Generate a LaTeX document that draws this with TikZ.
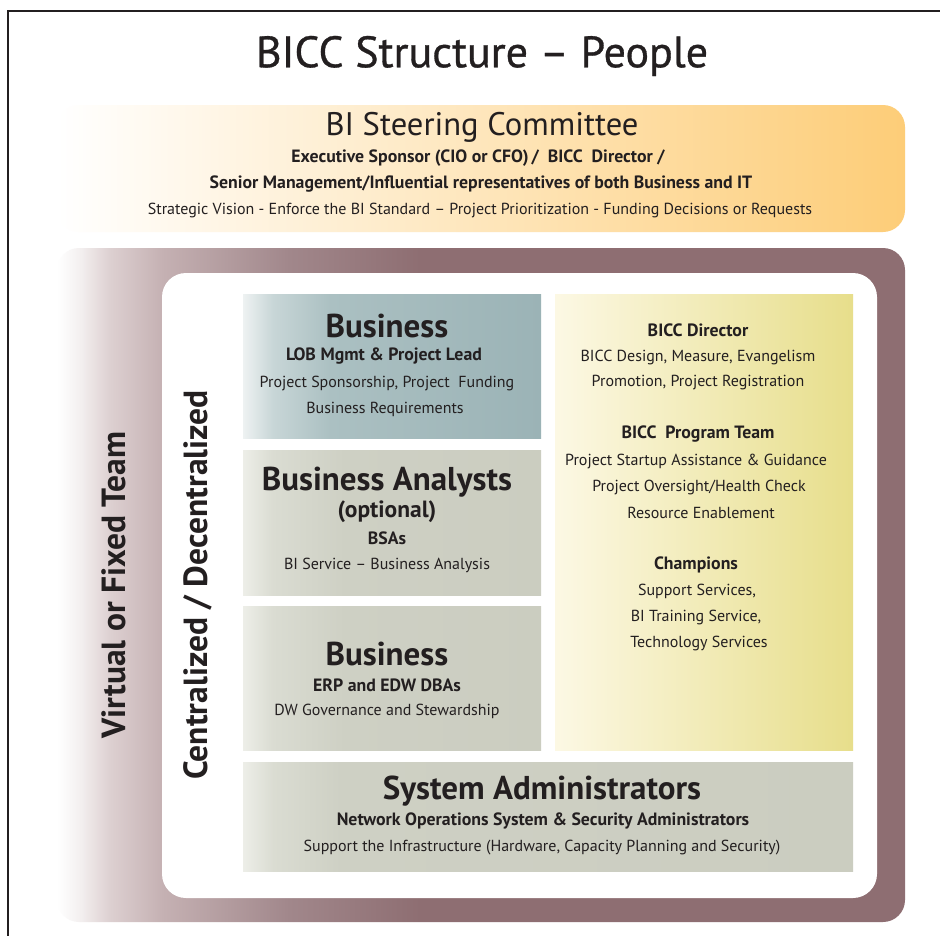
\documentclass[tikz,border=0pt]{standalone}
\usepackage{fontspec}
\setmainfont{PT Sans}
\newfontfamily\headlinefont{PT Sans}[FakeBold=0.7]

% palette
\definecolor{ink}{HTML}{231F20}
\definecolor{mauve}{HTML}{8E6E72}
\definecolor{mauveA}{HTML}{F3EFEF}
\definecolor{mauveB}{HTML}{DDD0D1}
\definecolor{mauveC}{HTML}{C5B1B3}
\definecolor{mauveD}{HTML}{A1878B}
\definecolor{steerorange}{HTML}{FDCD78}
\definecolor{bizA}{HTML}{EEF2F2}
\definecolor{bizB}{HTML}{C8D6D7}
\definecolor{bizC}{HTML}{ABC0C2}
\definecolor{bizD}{HTML}{9BB3B6}
\definecolor{sageA}{HTML}{EDEEE8}
\definecolor{sageB}{HTML}{DADCD2}
\definecolor{sageC}{HTML}{CED0C4}
\definecolor{sageD}{HTML}{CBCDC0}
\definecolor{creamL}{HTML}{FCF8E4}
\definecolor{creamR}{HTML}{E7DE8B}

% horizontal shadings (the path box spans 25bp..75bp)
\pgfdeclarehorizontalshading{teamshade}{100bp}{color(0bp)=(white); color(25bp)=(white);
  color(26.4bp)=(mauveA); color(28.1bp)=(mauveB); color(31.2bp)=(mauveC);
  color(38.7bp)=(mauveD); color(46.4bp)=(mauve); color(100bp)=(mauve)}
\pgfdeclarehorizontalshading{bizshade}{100bp}{color(0bp)=(bizA); color(25bp)=(bizA);
  color(30bp)=(bizB); color(39.6bp)=(bizC); color(75bp)=(bizD); color(100bp)=(bizD)}
\pgfdeclarehorizontalshading{sageshade}{100bp}{color(0bp)=(sageA); color(25bp)=(sageA);
  color(30bp)=(sageB); color(42bp)=(sageC); color(75bp)=(sageD); color(100bp)=(sageD)}
\pgfdeclarehorizontalshading{wideshade}{100bp}{color(0bp)=(sageA); color(25bp)=(sageA);
  color(27.5bp)=(sageB); color(33bp)=(sageC); color(75bp)=(sageD); color(100bp)=(sageD)}

\tikzset{
  panel/.style={anchor=north west, inner sep=0pt, outer sep=0pt},
  titletext/.style={text=ink, font=\headlinefont\fontsize{44}{48}\selectfont},
  steertitle/.style={text=ink, font=\fontsize{32.6}{36}\selectfont},
  boldline/.style={text=ink, font=\fontsize{17.8}{20}\selectfont\bfseries},
  plainline/.style={text=ink, font=\fontsize{16}{19}\selectfont},
  boxhead/.style={text=ink, font=\fontsize{33}{36}\selectfont\bfseries},
  optline/.style={text=ink, font=\fontsize{23.5}{26}\selectfont\bfseries},
  sidelabel/.style={text=ink, rotate=90, font=\fontsize{33.5}{36}\selectfont\bfseries},
}

\begin{document}
\begin{tikzpicture}[x=1pt,y=-1pt]
\useasboundingbox (0,0) rectangle (940,935);
\fill[white] (0,0) rectangle (940,935);

% page frame (open towards the right and bottom)
\draw[ink, line width=2.4pt] (8,940) -- (8,11) -- (945,11);

\node[titletext] (title) at (482,56) {BICC Structure – People};

% steering committee band
\node[panel, minimum width=848pt, minimum height=127pt, rounded corners=22pt,
      left color=white, right color=steerorange] (steer) at (57,105) {};
\node[steertitle] (steerhead) at (482,127) {BI Steering Committee};
\node[boldline] (steerA) at (478,158) {Executive Sponsor (CIO or CFO)\,/\ \ BICC\ \ Director /};
\node[boldline] (steerB) at (481,184) {Senior Management/Influential representatives of both Business and IT};
\node[plainline] (steerC) at (480,210) {Strategic Vision - Enforce the BI Standard – Project Prioritization - Funding Decisions or Requests};

% team frame and the white core inside it
\node[panel, minimum width=848pt, minimum height=674pt, rounded corners=22pt,
      shading=teamshade] (team) at (57,248) {};
\node[panel, minimum width=715pt, minimum height=625pt, rounded corners=24pt,
      fill=white] (core) at (162,273) {};

\node[sidelabel] (virtual) at (114,585) {Virtual or Fixed Team};
\node[sidelabel] (central) at (198,585) {Centralized / Decentralized};

% role panels
\node[panel, minimum width=298pt, minimum height=144pt, shading=bizshade] (lob) at (243,294) {};
\node[panel, minimum width=298pt, minimum height=145pt, shading=sageshade] (bsa) at (243,450) {};
\node[panel, minimum width=298pt, minimum height=144pt, shading=sageshade] (dba) at (243,606) {};
\node[panel, minimum width=298pt, minimum height=456pt, left color=creamL, right color=creamR] (bicc) at (555,294) {};
\node[panel, minimum width=610pt, minimum height=109pt, shading=wideshade] (sysadm) at (243,762) {};

% Business / LOB
\node[boxhead] (lobhead) at (387,326) {Business};
\node[boldline] (lobA) at (384,356) {LOB Mgmt \& Project Lead};
\node[plainline] (lobB) at (387,383) {Project Sponsorship, Project\ \ Funding};
\node[plainline] (lobC) at (385,409) {Business Requirements};

% Business analysts
\node[boxhead] (bsahead) at (387,482) {Business Analysts};
\node[optline] (bsaA) at (387,512) {(optional)};
\node[boldline] (bsaB) at (387,538) {BSAs};
\node[plainline] (bsaC) at (387,565) {BI Service – Business Analysis};

% Business / DBAs
\node[boxhead] (dbahead) at (387,654) {Business};
\node[boldline] (dbaA) at (387,685) {ERP and EDW DBAs};
\node[plainline] (dbaB) at (387,711) {DW Governance and Stewardship};

% BICC staff
\node[boldline] (dirhead) at (698,330) {BICC Director};
\node[plainline] (dirA) at (698,357) {BICC Design, Measure, Evangelism};
\node[plainline] (dirB) at (698,383) {Promotion, Project Registration};
\node[boldline] (pgmhead) at (698,434) {BICC\ \ Program Team};
\node[plainline] (pgmA) at (696,461) {Project Startup Assistance \& Guidance};
\node[plainline] (pgmB) at (699,487) {Project Oversight/Health Check};
\node[plainline] (pgmC) at (701,513) {Resource Enablement};
\node[boldline] (chmhead) at (696,565) {Champions};
\node[plainline] (chmA) at (697,591) {Support Services,};
\node[plainline] (chmB) at (696,617) {BI Training Service,};
\node[plainline] (chmC) at (699,643) {Technology Services};

% System administrators
\node[boxhead] (syshead) at (542,791) {System Administrators};
\node[boldline] (sysA) at (543,821) {Network Operations System \& Security Administrators};
\node[plainline] (sysB) at (542,848) {Support the Infrastructure (Hardware, Capacity Planning and Security)};
\end{tikzpicture}
\end{document}
